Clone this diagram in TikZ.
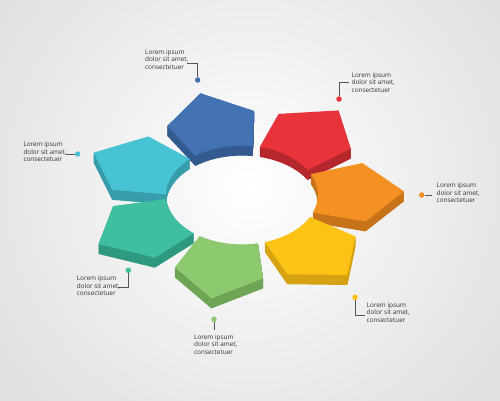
\documentclass[tikz,border=0pt]{standalone}
\usepackage{fontspec}
\setmainfont{Open Sans}
\definecolor{bgout}{HTML}{E0E0E0}
\definecolor{cBlue}{HTML}{4272B2}\definecolor{sBlue}{HTML}{335B90}
\definecolor{cRed}{HTML}{E8333A}\definecolor{sRed}{HTML}{B3272D}
\definecolor{cOrange}{HTML}{F49122}\definecolor{sOrange}{HTML}{C7731A}
\definecolor{cYellow}{HTML}{FDC216}\definecolor{sYellow}{HTML}{D6A212}
\definecolor{cGreen}{HTML}{8DC96E}\definecolor{sGreen}{HTML}{6EA456}
\definecolor{cTeal}{HTML}{3FBFA0}\definecolor{sTeal}{HTML}{2F9980}
\definecolor{cCyan}{HTML}{47C3D3}\definecolor{sCyan}{HTML}{389DAA}
\definecolor{txt}{HTML}{333333}
\definecolor{lead}{HTML}{555555}
\tikzset{
  plane/.style={shift={(242,195)}, x=1pt, y=1pt, cm={1,0,0,0.65,(0,0)}},
  lbl/.style={anchor=north west, inner sep=0pt, align=left, font=\fontsize{6.4}{7.3}\selectfont, text=txt},
  ldot/.style={circle, fill=#1, inner sep=0pt, minimum size=5.5pt},
  leader/.style={draw=lead, line width=0.8pt}
}
\newcommand\pentpath[1]{(#1:162) -- (#1+20.2:130) -- (#1+23:76) arc[start angle=#1+23, end angle=#1-23, radius=76] -- (#1-20.2:130) -- cycle}
\newcommand\piece[3]{%
  \foreach \k in {0.5,1,...,10}{%
    \begin{scope}[yshift=-\k pt]
      \begin{scope}[plane] \fill[#3] \pentpath{#1}; \end{scope}
    \end{scope}}
  \begin{scope}[plane] \fill[#2] \pentpath{#1}; \end{scope}}
\begin{document}
\begin{tikzpicture}[x=1pt,y=-1pt]
\useasboundingbox (0,0) rectangle (500,400);
\fill[bgout] (-10,-10) rectangle (510,410);
\begin{scope}
  \clip (-10,-10) rectangle (510,410);
  \shade[inner color=white, outer color=bgout] (250,185) circle (310pt);
\end{scope}
% pieces, back to front
\piece{104.86}{cBlue}{sBlue}
\piece{53.43}{cRed}{sRed}
\piece{156.29}{cCyan}{sCyan}
\piece{2}{cOrange}{sOrange}
\piece{207.71}{cTeal}{sTeal}
\piece{310.57}{cYellow}{sYellow}
\piece{259.14}{cGreen}{sGreen}
% labels
\node[ldot=cBlue] (d1) at (197.7,80) {};
\coordinate (e1) at (187,63);
\draw[leader] (d1) |- (e1);
\node[lbl] (t1) at (145,49.5) {Lorem ipsum\\dolor sit amet,\\consectetuer};

\node[ldot=cRed] (d2) at (339,99) {};
\coordinate (e2) at (349,82);
\draw[leader] (d2) |- (e2);
\node[lbl] (t2) at (351.5,72.5) {Lorem ipsum\\dolor sit amet,\\consectetuer};

\node[ldot=cOrange] (d3) at (421.7,195) {};
\coordinate (e3) at (431.7,195);
\draw[leader] (d3) -- (e3);
\node[lbl] (t3) at (436.5,183) {Lorem ipsum\\dolor sit amet,\\consectetuer};

\node[ldot=cYellow] (d4) at (355,297.3) {};
\coordinate (e4) at (365,315);
\draw[leader] (d4) |- (e4);
\node[lbl] (t4) at (366.5,302.5) {Lorem ipsum\\dolor sit amet,\\consectetuer};

\node[ldot=cGreen] (d5) at (214,319.3) {};
\coordinate (e5) at (214,330);
\draw[leader] (d5) -- (e5);
\node[lbl] (t5) at (194,334.5) {Lorem ipsum\\dolor sit amet,\\consectetuer};

\node[ldot=cCyan] (d6) at (77.7,154) {};
\coordinate (e6) at (66,154);
\draw[leader] (d6) -- (e6);
\node[lbl] (t6) at (23.3,142) {Lorem ipsum\\dolor sit amet,\\consectetuer};

\node[ldot=cTeal] (d7) at (128.3,270.3) {};
\coordinate (e7) at (118.3,287.3);
\draw[leader] (d7) |- (e7);
\node[lbl] (t7) at (76.7,276) {Lorem ipsum\\dolor sit amet,\\consectetuer};
\end{tikzpicture}
\end{document}
